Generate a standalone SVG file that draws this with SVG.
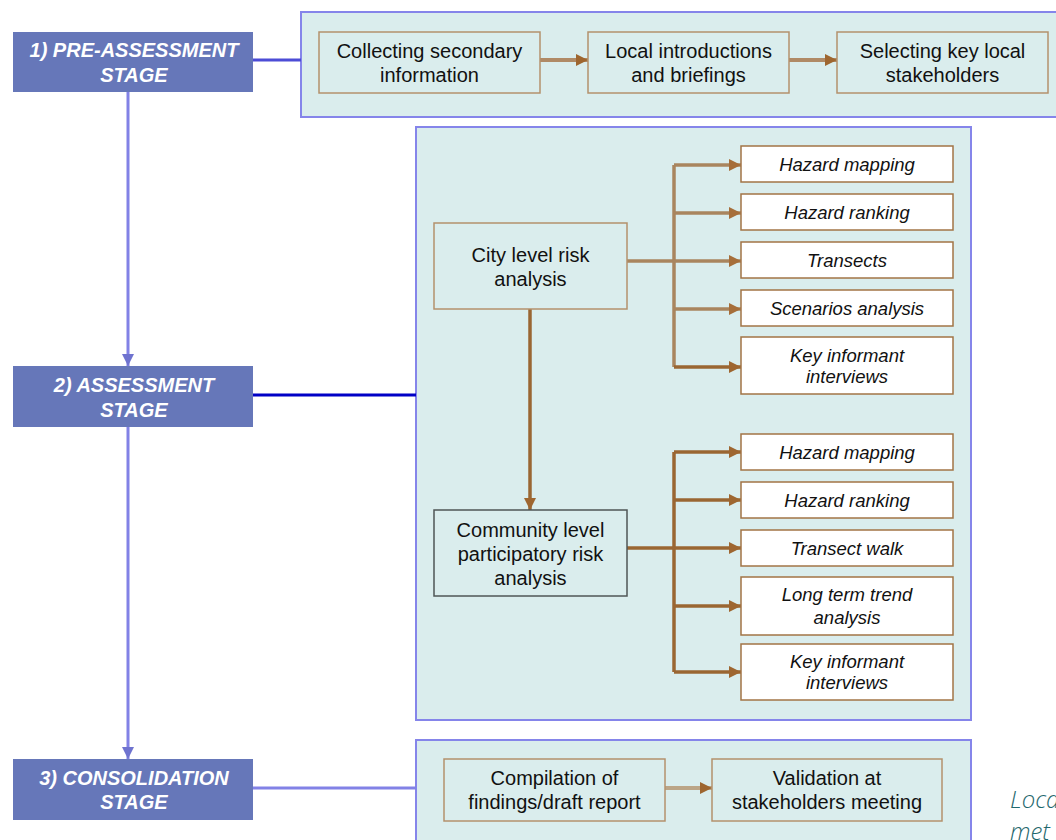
<svg xmlns="http://www.w3.org/2000/svg" width="1056" height="840" viewBox="0 0 1056 840">
<style>
.stage{fill:#6677b9;}
.stxt{font-family:"Liberation Sans",Arial,sans-serif;font-size:20px;font-weight:bold;font-style:italic;fill:#ffffff;text-anchor:middle;}
.panel{fill:#daeded;stroke:#8585ea;stroke-width:2;}
.box{fill:#daeded;stroke:#b4916c;stroke-width:1.5;}
.cbox{fill:#daeded;stroke:#4f5656;stroke-width:1.5;}
.child{fill:#ffffff;stroke:#a27446;stroke-width:1.5;}
.txt{font-family:"Liberation Sans",Arial,sans-serif;font-size:20px;fill:#111111;text-anchor:middle;}
.itxt{font-family:"Liberation Sans",Arial,sans-serif;font-size:18.5px;font-style:italic;fill:#111111;text-anchor:middle;}
.c1{fill:none;stroke:#a9855e;stroke-width:3.5;}
.c2{fill:none;stroke:#9a6632;stroke-width:3.5;}
.cp{fill:none;stroke:#b08a66;stroke-width:4;}
.vs{fill:none;stroke:#8282e6;stroke-width:3;}
.cap{font-family:"Open Sans",sans-serif;font-size:24px;font-style:italic;font-weight:300;fill:#1f686e;}
</style>
<defs>
<marker id="ab" markerUnits="userSpaceOnUse" markerWidth="14" markerHeight="14" refX="12" refY="6" orient="auto"><path d="M0,0 L12,6 L0,12 Z" fill="#9e6630"/></marker>
<marker id="ab2" markerUnits="userSpaceOnUse" markerWidth="14" markerHeight="14" refX="12" refY="6" orient="auto"><path d="M0,0 L12,6 L0,12 Z" fill="#a66e3a"/></marker>
<marker id="av" markerUnits="userSpaceOnUse" markerWidth="14" markerHeight="14" refX="12" refY="6" orient="auto"><path d="M0,0 L12,6 L0,12 Z" fill="#6f73cf"/></marker>
</defs>

<g id="panel1"><rect class="panel" x="301" y="12" width="760" height="105"/></g>
<g id="panel2"><rect class="panel" x="416" y="127" width="555" height="593"/></g>
<g id="panel3"><rect class="panel" x="416" y="740" width="555" height="110"/></g>

<g id="connectors">
<line x1="128" y1="92" x2="128" y2="366" class="vs" marker-end="url(#av)"/>
<line x1="128" y1="427" x2="128" y2="759" class="vs" marker-end="url(#av)"/>
<line x1="253" y1="60" x2="301" y2="60" stroke="#4c4cd6" stroke-width="3"/>
<line x1="253" y1="395" x2="416" y2="395" stroke="#0000c6" stroke-width="3"/>
<line x1="253" y1="788" x2="416" y2="788" stroke="#8282e6" stroke-width="3"/>
<line x1="540" y1="60" x2="588" y2="60" class="cp" marker-end="url(#ab)"/>
<line x1="789" y1="60" x2="837" y2="60" class="cp" marker-end="url(#ab)"/>
<line x1="665" y1="788" x2="712" y2="788" stroke="#bba587" stroke-width="4" marker-end="url(#ab)"/>
<line x1="627" y1="261" x2="674" y2="261" class="c1"/>
<path d="M674,165 L674,367" class="c1"/>
<line x1="674" y1="165" x2="741" y2="165" class="c1" marker-end="url(#ab2)"/>
<line x1="674" y1="213" x2="741" y2="213" class="c1" marker-end="url(#ab2)"/>
<line x1="674" y1="261" x2="741" y2="261" class="c1" marker-end="url(#ab2)"/>
<line x1="674" y1="309" x2="741" y2="309" class="c1" marker-end="url(#ab2)"/>
<line x1="674" y1="367" x2="741" y2="367" class="c2" marker-end="url(#ab)"/>
<line x1="530" y1="309" x2="530" y2="510" class="c2" marker-end="url(#ab)"/>
<line x1="627" y1="548" x2="674" y2="548" class="c2"/>
<path d="M674,452 L674,672" class="c2"/>
<line x1="674" y1="452" x2="741" y2="452" class="c2" marker-end="url(#ab)"/>
<line x1="674" y1="500" x2="741" y2="500" class="c2" marker-end="url(#ab)"/>
<line x1="674" y1="548" x2="741" y2="548" class="c2" marker-end="url(#ab)"/>
<line x1="674" y1="606" x2="741" y2="606" class="c2" marker-end="url(#ab)"/>
<line x1="674" y1="672" x2="741" y2="672" class="c2" marker-end="url(#ab)"/>
</g>

<g id="stage1"><rect class="stage" x="13" y="32" width="240" height="60"/><text class="stxt" x="134" y="57">1) PRE-ASSESSMENT</text><text class="stxt" x="134" y="82">STAGE</text></g>
<g id="stage2"><rect class="stage" x="13" y="366" width="240" height="61"/><text class="stxt" x="134" y="392">2) ASSESSMENT</text><text class="stxt" x="134" y="417">STAGE</text></g>
<g id="stage3"><rect class="stage" x="13" y="759" width="240" height="61"/><text class="stxt" x="134" y="785">3) CONSOLIDATION</text><text class="stxt" x="134" y="809">STAGE</text></g>

<g id="collecting"><rect class="box" x="319" y="32" width="221" height="61"/><text class="txt" x="429.5" y="58">Collecting secondary</text><text class="txt" x="429.5" y="82">information</text></g>
<g id="introductions"><rect class="box" x="588" y="32" width="201" height="61"/><text class="txt" x="688.5" y="58">Local introductions</text><text class="txt" x="688.5" y="82">and briefings</text></g>
<g id="selecting"><rect class="box" x="837" y="32" width="211" height="61"/><text class="txt" x="942.5" y="58">Selecting key local</text><text class="txt" x="942.5" y="82">stakeholders</text></g>

<g id="city"><rect class="box" x="434" y="223" width="193" height="86"/><text class="txt" x="530.5" y="262">City level risk</text><text class="txt" x="530.5" y="286">analysis</text></g>
<g id="city-hazard-mapping"><rect class="child" x="741" y="146" width="212" height="36"/><text class="itxt" x="847" y="171">Hazard mapping</text></g>
<g id="city-hazard-ranking"><rect class="child" x="741" y="194" width="212" height="36"/><text class="itxt" x="847" y="219">Hazard ranking</text></g>
<g id="city-transects"><rect class="child" x="741" y="242" width="212" height="36"/><text class="itxt" x="847" y="267">Transects</text></g>
<g id="city-scenarios"><rect class="child" x="741" y="290" width="212" height="36"/><text class="itxt" x="847" y="315">Scenarios analysis</text></g>
<g id="city-key-informant"><rect class="child" x="741" y="337" width="212" height="57"/><text class="itxt" x="847" y="362">Key informant</text><text class="itxt" x="847" y="383">interviews</text></g>

<g id="community"><rect class="cbox" x="434" y="510" width="193" height="86"/><text class="txt" x="530.5" y="537">Community level</text><text class="txt" x="530.5" y="561">participatory risk</text><text class="txt" x="530.5" y="585">analysis</text></g>
<g id="comm-hazard-mapping"><rect class="child" x="741" y="434" width="212" height="36"/><text class="itxt" x="847" y="459">Hazard mapping</text></g>
<g id="comm-hazard-ranking"><rect class="child" x="741" y="482" width="212" height="36"/><text class="itxt" x="847" y="507">Hazard ranking</text></g>
<g id="comm-transect-walk"><rect class="child" x="741" y="530" width="212" height="36"/><text class="itxt" x="847" y="555">Transect walk</text></g>
<g id="comm-long-term"><rect class="child" x="741" y="577" width="212" height="58"/><text class="itxt" x="847" y="601">Long term trend</text><text class="itxt" x="847" y="624">analysis</text></g>
<g id="comm-key-informant"><rect class="child" x="741" y="644" width="212" height="56"/><text class="itxt" x="847" y="668">Key informant</text><text class="itxt" x="847" y="689">interviews</text></g>

<g id="compilation"><rect class="box" x="444" y="759" width="221" height="62"/><text class="txt" x="554.5" y="785">Compilation of</text><text class="txt" x="554.5" y="809">findings/draft report</text></g>
<g id="validation"><rect class="box" x="712" y="759" width="230" height="62"/><text class="txt" x="827" y="785">Validation at</text><text class="txt" x="827" y="809">stakeholders meeting</text></g>

<g id="caption"><text class="cap" x="1010" y="808">Loca</text><text class="cap" x="1010" y="840">met</text></g>
</svg>
